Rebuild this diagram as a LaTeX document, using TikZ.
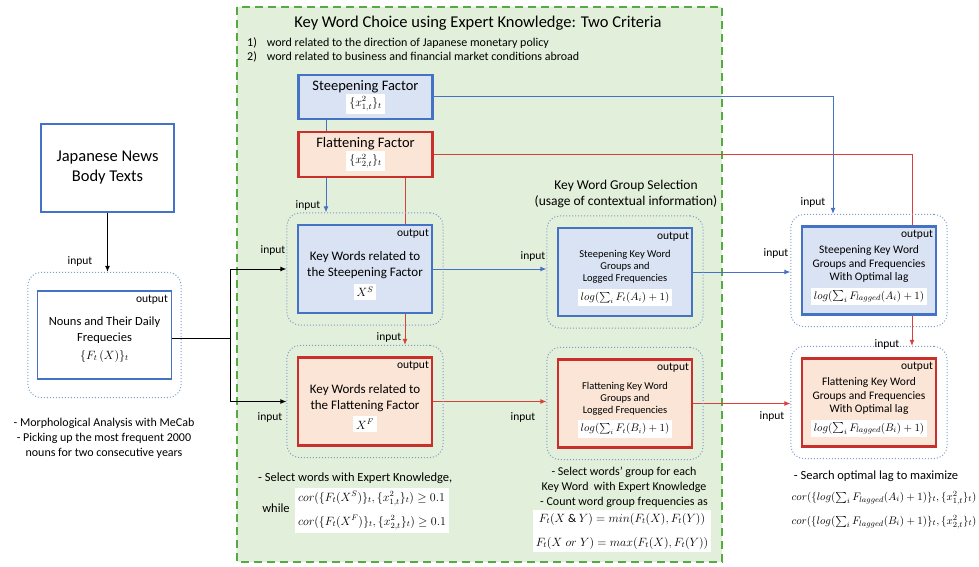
\documentclass[tikz,border=0pt]{standalone}
\usepackage{amsmath}
\usepackage{amssymb}
\usepackage{fontspec}
\setmainfont{Carlito}
\usetikzlibrary{arrows.meta,fit}

\definecolor{kwblue}{HTML}{4472C4}
\definecolor{kwbluefill}{HTML}{DAE3F3}
\definecolor{kwred}{HTML}{C9302C}
\definecolor{kwredline}{HTML}{D9403A}
\definecolor{kwredfill}{HTML}{FBE5D6}
\definecolor{kwgreen}{HTML}{58A846}
\definecolor{kwgreenfill}{HTML}{E2EFDA}
\definecolor{dotblue}{HTML}{7F9CCF}

\pgfdeclarelayer{bg}
\pgfdeclarelayer{wires}
\pgfsetlayers{bg,wires,main}

\newcommand{\fs}[2]{\fontsize{#1}{#2}\selectfont}
\newcommand{\toppad}[1]{\rule{0pt}{#1}}

\tikzset{
  sbox/.style={draw=kwblue, fill=kwbluefill, line width=2.2pt, align=center, inner sep=2pt,
    minimum width=134pt, minimum height=88pt},
  fbox/.style={draw=kwred, fill=kwredfill, line width=2.2pt, align=center, inner sep=2pt,
    minimum width=134pt, minimum height=88pt},
  wbox/.style={draw=kwblue, fill=white, line width=1.2pt, align=center, inner sep=2pt,
    minimum width=134pt, minimum height=88pt},
  obox/.style={draw=dotblue, dotted, line width=1pt, rounded corners=13pt,
    inner xsep=10pt, inner ysep=11pt},
  outlbl/.style={label={[lbl, anchor=north east, xshift=-3pt, yshift=-4pt]north east:output}},
  lbl/.style={font=\fs{11.5}{13}, inner sep=1pt},
  note/.style={font=\fs{12}{15}, align=center, inner sep=1pt},
  sline/.style={draw=kwblue, line width=1pt},
  fline/.style={draw=kwredline, line width=1pt},
  tip/.style={-{Latex[length=6pt,width=5pt]}},
}

\begin{document}
\begin{tikzpicture}[x=1pt,y=-1pt, font=\fs{12}{14}]
  \useasboundingbox (0,0) rectangle (979,567);
  \begin{pgfonlayer}{bg}
    \draw[draw=kwgreen, fill=kwgreenfill, line width=2pt, dash pattern=on 8pt off 5pt] (237,7) rectangle (722,562);
  \end{pgfonlayer}

  % title and criteria
  \node (title) at (478,23) {\fs{16.5}{19}Key Word Choice using Expert Knowledge: Two Criteria};
  \node[anchor=west, inner sep=0pt] (crit1) at (247,43) {1)\hspace{10pt}word related to the direction of Japanese monetary policy};
  \node[anchor=west, inner sep=0pt] (crit2) at (247,57) {2)\hspace{10pt}word related to business and financial market conditions abroad};

  % factors
  \node[sbox, minimum height=44pt, font=\fs{14.5}{17}] (steep) at (365.5,97)
    {Steepening Factor\\[-1pt] \colorbox{white}{\fs{12}{14}$\{x^2_{1,t}\}_t$}};
  \node[fbox, minimum height=45pt, font=\fs{14.5}{17}] (flat) at (365.5,154.5)
    {Flattening Factor\\[-1pt] \colorbox{white}{\fs{12}{14}$\{x^2_{2,t}\}_t$}};

  % news and nouns
  \node[wbox, minimum width=133pt, font=\fs{16.5}{20}] (news) at (107.5,168) {Japanese News\\Body Texts};
  \node[wbox, outlbl, font=\fs{12.5}{16}] (nouns) at (104.5,335)
    {\toppad{20pt}Nouns and Their Daily\\Frequecies\\[2pt] \colorbox{white}{\fs{12}{14}$\{F_t\,(X)\}_t$}};
  \node[obox, fit=(nouns), inner xsep=9pt, inner ysep=18pt] (nounsO) {};

  % key words
  \node[sbox, outlbl, font=\fs{13}{16}] (kws) at (365,269)
    {\toppad{22pt}Key Words related to\\the Steepening Factor\\[4pt] \colorbox{white}{\fs{12}{14}$X^S$}};
  \node[obox, fit=(kws)] (kwsO) {};
  \node[fbox, outlbl, font=\fs{13}{16}] (kwf) at (365,401.5)
    {\toppad{22pt}Key Words related to\\the Flattening Factor\\[4pt] \colorbox{white}{\fs{12}{14}$X^F$}};
  \node[obox, fit=(kwf)] (kwfO) {};

  % key word groups
  \node[align=center, font=\fs{13.5}{16.5}] (grhead) at (626,194) {Key Word Group Selection\\(usage of contextual information)};
  \node[sbox, outlbl, font=\fs{10.5}{12}] (grs) at (625,272)
    {\toppad{20pt}Steepening Key Word\\Groups and\\Logged Frequencies\\[4pt] \colorbox{white}{\fs{10.5}{13}$log(\sum_i F_t(A_i)+1)$}};
  \node[obox, fit=(grs)] (grsO) {};
  \node[fbox, outlbl, font=\fs{10.5}{12}] (grf) at (625,403.5)
    {\toppad{20pt}Flattening Key Word\\Groups and\\Logged Frequencies\\[4pt] \colorbox{white}{\fs{10.5}{13}$log(\sum_i F_t(B_i)+1)$}};
  \node[obox, fit=(grf)] (grfO) {};

  % optimal lag
  \node[sbox, outlbl, font=\fs{11.5}{13.5}] (lags) at (869,270.5)
    {\toppad{18pt}Steepening Key Word\\Groups and Frequencies\\With Optimal lag\\[5pt] \colorbox{white}{\fs{11}{13}$log(\sum_i F_{lagged}(A_i)+1)$}};
  \node[obox, fit=(lags)] (lagsO) {};
  \node[fbox, outlbl, font=\fs{11.5}{13.5}] (lagf) at (869,402.5)
    {\toppad{18pt}Flattening Key Word\\Groups and Frequencies\\With Optimal lag\\[5pt] \colorbox{white}{\fs{11}{13}$log(\sum_i F_{lagged}(B_i)+1)$}};
  \node[obox, fit=(lagf)] (lagfO) {};

  % connectors
  \coordinate (split) at (230,338);
  \begin{pgfonlayer}{wires}
    \draw[line width=1pt, tip] (news.south) -- (news.south |- nounsO.north);
    \draw[line width=1pt] (nouns.east |- split) -- (split);
    \draw[line width=1pt, tip] (split) |- (kwsO.west);
    \draw[line width=1pt, tip] (split) |- (kwfO.west);
    \draw[sline, tip] (steep.east) -| ([xshift=-36pt]lagsO.north);
    \draw[sline, tip] ([xshift=-39.5pt]steep.south) -- ([xshift=-39.5pt]steep.south |- kwsO.north);
    \draw[fline, tip] (flat.east) -| ([xshift=43pt]lagfO.north);
    \draw[fline, tip] ([xshift=39.5pt]flat.south) -- ([xshift=39.5pt]flat.south |- kwfO.north);
    \draw[sline, tip] (kws.east) -- (kws.east -| grsO.west);
    \draw[sline, tip] (grs.east) -- (grs.east -| lagsO.west);
    \draw[fline, tip] (kwf.east) -- (kwf.east -| grfO.west);
    \draw[fline, tip] (grf.east) -- (grf.east -| lagfO.west);
  \end{pgfonlayer}

  % input labels
  \node[lbl] (in1) at (80,261) {input};
  \node[lbl] (in2) at (273,250) {input};
  \node[lbl] (in3) at (270,417) {input};
  \node[lbl] (in4) at (308,205) {input};
  \node[lbl] (in5) at (389,337) {input};
  \node[lbl] (in6) at (533,256) {input};
  \node[lbl] (in7) at (523,417) {input};
  \node[lbl] (in8) at (776,253) {input};
  \node[lbl] (in9) at (813,202) {input};
  \node[lbl] (in10) at (772,416) {input};
  \node[lbl] (in11) at (887,344) {input};

  % notes
  \node[note] (nounsnote) at (104,438)
    {- Morphological Analysis with MeCab\\- Picking up the most frequent 2000\\nouns for two consecutive years};
  \node[note, anchor=west, font=\fs{12.5}{15}] (kwnote) at (257,478) {- Select words with Expert Knowledge,};
  \node[note, font=\fs{12.5}{15}] (kwwhile) at (276,508) {while};
  \node[fill=white, inner sep=3pt, align=left, font=\fs{11.5}{24}] (kwmath) at (372,510.5)
    {$cor(\{F_t(X^S)\}_t,\{x^2_{1,t}\}_t)\geq 0.1$\\$cor(\{F_t(X^F)\}_t,\{x^2_{2,t}\}_t)\geq 0.1$};
  \node[note] (grnote) at (624,487)
    {- Select words' group for each\\Key Word\ \ with Expert Knowledge\\- Count word group frequencies as};
  \node[fill=white, inner sep=3pt, align=center, font=\fs{12}{24}] (grmath) at (622,531)
    {$F_t(X\mathbin{\&}Y)=min(F_t(X),F_t(Y))$\\$F_t(X\mathrel{or}Y)=max(F_t(X),F_t(Y))$};
  \node[note, font=\fs{12.5}{15}] (lagnote) at (876,476) {- Search optimal lag to maximize};
  \node[align=center, font=\fs{11}{24}] (lagmath) at (884,510)
    {$cor(\{log(\sum_i F_{lagged}(A_i)+1)\}_t,\{x^2_{1,t}\}_t)$\\$cor(\{log(\sum_i F_{lagged}(B_i)+1)\}_t,\{x^2_{2,t}\}_t)$};
\end{tikzpicture}
\end{document}
